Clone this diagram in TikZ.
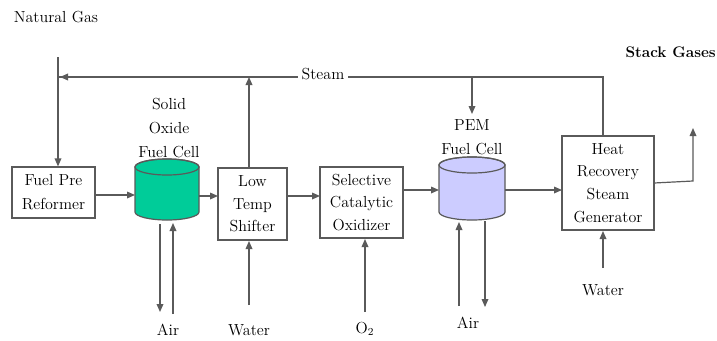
\documentclass[tikz,border=0pt]{standalone}
\usetikzlibrary{arrows.meta}
\definecolor{lnc}{HTML}{5A5A5A}
\definecolor{sofcgreen}{HTML}{00CC99}
\definecolor{pemblue}{HTML}{CCCCFF}
\begin{document}
\begin{tikzpicture}[x=0.75pt,y=-0.75pt,
  every node/.style={font=\fontsize{12}{15}\selectfont, text=black, align=center, inner sep=0pt},
  unit/.style={draw=lnc, line width=0.9pt, fill=white},
  flow/.style={draw=lnc, line width=0.9pt, -{Triangle[length=6pt,width=5pt]}},
  plain/.style={draw=lnc, line width=0.9pt},
  cyl/.style={draw=lnc, line width=0.9pt}]
\useasboundingbox (0,0) rectangle (717,340);
\fill[white] (0,0) rectangle (717,340);

% labels
\node (ng) at (56,17) {Natural Gas};
\node[anchor=east, font=\fontsize{11.5}{14}\selectfont\bfseries] (stack) at (716,52) {Stack Gases};
\node (sofclbl) at (169,128) {Solid\\[3pt]Oxide\\[3pt]Fuel Cell};
\node (pemlbl) at (472,137) {PEM\\[3pt]Fuel Cell};

% boxes
\node[unit, minimum width=83*0.75pt, minimum height=51*0.75pt] (ref) at (53.5,192.5) {Fuel Pre\\[3pt]Reformer};
\node[unit, minimum width=69*0.75pt, minimum height=72*0.75pt] (lts) at (252.5,204) {Low\\[2pt]Temp\\[2pt]Shifter};
\node[unit, minimum width=83*0.75pt, minimum height=71*0.75pt] (sco) at (361.5,202.5) {Selective\\[2pt]Catalytic\\[2pt]Oxidizer};
\node[unit, minimum width=92*0.75pt, minimum height=94*0.75pt] (hrsg) at (608,183) {Heat\\[2pt]Recovery\\[2pt]Steam\\[2pt]Generator};

% SOFC cylinder
\filldraw[cyl, fill=sofcgreen] (135,167) -- (135,212) arc[start angle=180, end angle=0, x radius=32, y radius=8] -- (199,167) arc[start angle=0, end angle=-180, x radius=32, y radius=8] -- cycle;
\draw[cyl] (167,167) ellipse[x radius=32, y radius=8];
\node[minimum width=64*0.75pt, minimum height=62*0.75pt] (sofc) at (167,190) {};

% PEM cylinder
\filldraw[cyl, fill=pemblue] (439,165) -- (439,212) arc[start angle=180, end angle=0, x radius=33, y radius=8] -- (505,165) arc[start angle=0, end angle=-180, x radius=33, y radius=8] -- cycle;
\draw[cyl] (472,165) ellipse[x radius=33, y radius=8];
\node[minimum width=66*0.75pt, minimum height=64*0.75pt] (pem) at (472,189) {};

% bottom labels
\node (air1) at (168,330) {Air};
\node (w1) at (249,330) {Water};
\node (o2) at (365,329) {O\textsubscript{2}};
\node (air2) at (468,323) {Air};
\node (w2) at (603,290) {Water};

% coordinates
\coordinate (ngtop) at (58,57);
\coordinate (stj) at (58,77);
\coordinate (stc) at (603,77);
\coordinate (pemin) at (472,77);
\coordinate (ltsup) at (249,77);

% steam loop
\draw[plain] (hrsg.north -| stc) -- (stc) -- (stj);
\draw[flow] (330,77) -- (60,77);
\node[fill=white, inner xsep=3pt, inner ysep=1pt] (steam) at (323,74) {Steam};
\draw[flow] (ngtop) -- (ngtop |- ref.north);
\draw[flow] (lts.north -| ltsup) -- (ltsup);
\draw[flow] (pemin) -- (472,114);

% main flow
\draw[flow] (95,195) -- (135,195);
\draw[flow] (199,196) -- (218,196);
\draw[flow] (287,196) -- (320,196);
\draw[flow] (403,190) -- (439,190);
\draw[flow] (505,190) -- (562,190);

% side streams
\draw[flow] (160,224) -- (160,312);
\draw[flow] (173,314) -- (173,223);
\draw[flow] (249,305) -- (249,241);
\draw[flow] (365,312) -- (365,239);
\draw[flow] (459,306) -- (459,222);
\draw[flow] (485,221) -- (485,307);
\draw[flow] (603,268) -- (603,231);

% stack
\coordinate (stk) at (693,181);
\draw[flow] (654,183) -- (stk) -- (693,128);
\end{tikzpicture}
\end{document}
